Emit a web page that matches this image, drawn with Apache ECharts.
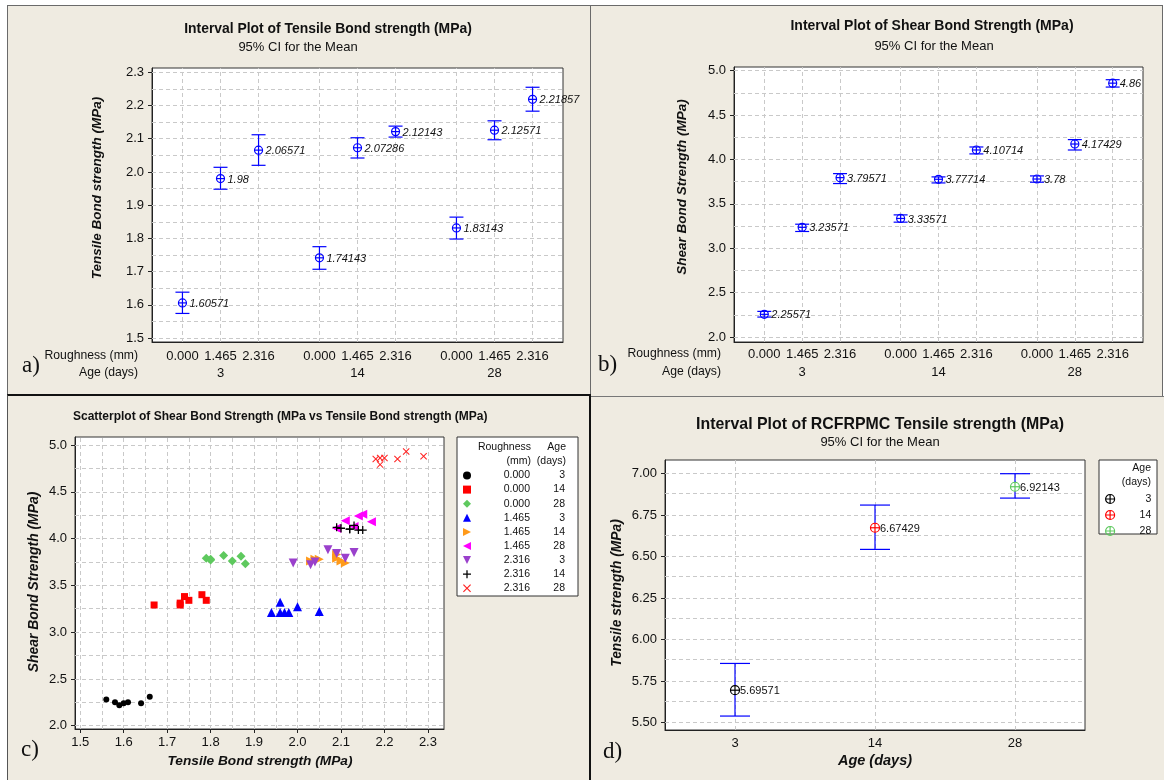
<!DOCTYPE html>
<html><head><meta charset="utf-8">
<script src="https://cdn.jsdelivr.net/npm/echarts@6/dist/echarts.min.js"></script>
<style>
html,body{margin:0;padding:0;background:#fff;}
.p{position:absolute;background:#EFEBE1;box-sizing:border-box;}
#c{position:absolute;left:0;top:0;width:1164px;height:780px;}
</style>
</head><body>
<div class="p" style="left:7px;top:5px;width:584px;height:390px;border:1px solid #6a6a6a;"></div>
<div class="p" style="left:590px;top:5px;width:573px;height:392px;border:1px solid #6a6a6a;"></div>
<div class="p" style="left:7px;top:394px;width:584px;height:386px;border-left:1px solid #555;border-top:2px solid #111;border-right:2px solid #111;"></div>
<div class="p" style="left:591px;top:396px;width:573px;height:384px;border-top:1px solid #777;"></div>
<div id="c"></div>
<script>
// ---------------- DATA ----------------
const roughness = ['0.000', '1.465', '2.316'];
const ages = ['3', '14', '28'];

// a) Tensile bond strength, 95% CI (order: age 3/14/28 x roughness 0.000/1.465/2.316)
const tensileMean = [1.60571, 1.98, 2.06571, 1.74143, 2.07286, 2.12143, 1.83143, 2.12571, 2.21857];
const tensileLow  = [1.574, 1.948, 2.020, 1.707, 2.042, 2.105, 1.798, 2.097, 2.183];
const tensileHigh = [1.638, 2.014, 2.112, 1.775, 2.103, 2.138, 1.864, 2.154, 2.255];

// b) Shear bond strength, 95% CI
const shearMean = [2.25571, 3.23571, 3.79571, 3.33571, 3.77714, 4.10714, 3.78, 4.17429, 4.86];
const shearLow  = [2.225, 3.189, 3.729, 3.294, 3.736, 4.063, 3.744, 4.107, 4.816];
const shearHigh = [2.289, 3.271, 3.841, 3.376, 3.804, 4.141, 3.815, 4.224, 4.899];

// c) Scatter: individual specimens (tensile x, shear y) per roughness/age group
const scatterGroups = ['0.000 3', '0.000 14', '0.000 28', '1.465 3', '1.465 14', '1.465 28', '2.316 3', '2.316 14', '2.316 28'];
const scatterTensile = [
  [1.56, 1.58, 1.59, 1.60, 1.61, 1.64, 1.66],
  [1.67, 1.73, 1.73, 1.74, 1.75, 1.78, 1.79],
  [1.79, 1.80, 1.80, 1.83, 1.85, 1.87, 1.88],
  [1.94, 1.96, 1.96, 1.97, 1.98, 2.00, 2.05],
  [2.03, 2.04, 2.05, 2.09, 2.09, 2.10, 2.11],
  [2.09, 2.09, 2.11, 2.13, 2.14, 2.15, 2.17],
  [1.99, 2.03, 2.04, 2.07, 2.09, 2.11, 2.13],
  [2.09, 2.10, 2.12, 2.12, 2.13, 2.14, 2.15],
  [2.18, 2.19, 2.19, 2.20, 2.23, 2.25, 2.29]
];
const scatterShear = [
  [2.28, 2.25, 2.22, 2.24, 2.25, 2.24, 2.31],
  [3.29, 3.31, 3.29, 3.38, 3.34, 3.40, 3.34],
  [3.79, 3.78, 3.77, 3.82, 3.76, 3.81, 3.73],
  [3.21, 3.32, 3.21, 3.21, 3.21, 3.27, 3.22],
  [3.76, 3.78, 3.78, 3.83, 3.79, 3.76, 3.74],
  [4.11, 4.11, 4.19, 4.13, 4.24, 4.26, 4.18],
  [3.74, 3.72, 3.75, 3.88, 3.84, 3.79, 3.85],
  [4.12, 4.11, 4.10, 4.10, 4.14, 4.09, 4.09],
  [4.85, 4.86, 4.79, 4.86, 4.85, 4.93, 4.88]
];

// d) RCFRPMC tensile strength, 95% CI
const rcfAges = ['3', '14', '28'];
const rcfMean = [5.69571, 6.67429, 6.92143];
const rcfLow  = [5.540, 6.544, 6.853];
const rcfHigh = [5.857, 6.811, 7.000];

// tick labels
const ticksA  = [1.5, 1.6, 1.7, 1.8, 1.9, 2.0, 2.1, 2.2, 2.3];
const ticksB  = [2.0, 2.5, 3.0, 3.5, 4.0, 4.5, 5.0];
const ticksCx = [1.5, 1.6, 1.7, 1.8, 1.9, 2.0, 2.1, 2.2, 2.3];
const ticksCy = [2.0, 2.5, 3.0, 3.5, 4.0, 4.5, 5.0];
const ticksD  = [5.50, 5.75, 6.00, 6.25, 6.50, 6.75, 7.00];

// ---------------- STYLE / LAYOUT ----------------
const FONT = '"Liberation Sans", Arial, sans-serif';
const SERIF = '"Liberation Serif", "DejaVu Serif", serif';
const BLUE = '#0000ff';
const GRIDC = '#c9c9c9';
const groupGap = 3.6;
const posAB = tensileMean.map((_, k) => Math.floor(k / 3) * groupGap + (k % 3));
const scatterColors = ['#000000', '#ff0000', '#5ec95e', '#0000ff', '#ff9a1a', '#ff00ff', '#9a40cc', '#000000', '#ff2020'];
const PLUS = 'path://M4.2,0H5.8V4.2H10V5.8H5.8V10H4.2V5.8H0V4.2H4.2Z';
const XMARK = 'path://M1,0L5,4L9,0L10,1L6,5L10,9L9,10L5,6L1,10L0,9L4,5L0,1Z';
const TRI_R = 'path://M0,0L10,5L0,10Z';
const TRI_L = 'path://M10,0L0,5L10,10Z';
const TRI_D = 'path://M0,0L10,0L5,10Z';
const scatterSymbols = [
  {symbol: 'circle', size: 6},
  {symbol: 'rect', size: 7},
  {symbol: 'diamond', size: 9},
  {symbol: 'triangle', size: 9},
  {symbol: TRI_R, size: 9},
  {symbol: TRI_L, size: 9},
  {symbol: TRI_D, size: 9},
  {symbol: PLUS, size: 8},
  {symbol: XMARK, size: 7}
];
const rcfColors = ['#000000', '#ff0000', '#5ec95e'];

function range(a, b, s) { const r = []; for (let v = a; v <= b + 1e-9; v += s) r.push(+v.toFixed(4)); return r; }

function gridSeries(gi, xs, ys) {
  const data = [];
  xs.forEach(v => data.push({xAxis: v}));
  ys.forEach(v => data.push({yAxis: v}));
  return {
    type: 'line', xAxisIndex: gi, yAxisIndex: gi, data: [], z: 1, silent: true,
    markLine: {silent: true, symbol: ['none', 'none'], label: {show: false}, animation: false,
      lineStyle: {type: [4, 3], color: GRIDC, width: 1}, emphasis: {disabled: true}, data: data}
  };
}

function yAx(gi, min, max, ticks, dec) {
  return {
    gridIndex: gi, type: 'value', min: min, max: max,
    axisLine: {show: true, onZero: false, lineStyle: {color: '#222'}},
    axisTick: {show: true, customValues: ticks, length: 4, lineStyle: {color: '#222'}},
    axisLabel: {customValues: ticks, formatter: v => Number(v).toFixed(dec), margin: 8,
      fontSize: 13, fontFamily: FONT, color: '#111'},
    splitLine: {show: false}
  };
}

function hiddenX(gi, min, max) {
  return {gridIndex: gi, type: 'value', min: min, max: max,
    axisLine: {show: true, onZero: false, lineStyle: {color: '#222'}}, axisTick: {show: false},
    axisLabel: {show: false}, splitLine: {show: false}};
}

function intervalSeries(gi, means, lows, highs, yMin, rOff, aOff) {
  return {
    type: 'custom', xAxisIndex: gi, yAxisIndex: gi, z: 5, clip: false, silent: true,
    data: means.map((m, k) => [posAB[k], m, lows[k], highs[k]]),
    renderItem: function (params, api) {
      const k = params.dataIndex;
      const x = api.value(0);
      const pm = api.coord([x, api.value(1)]);
      const pl = api.coord([x, api.value(2)]);
      const ph = api.coord([x, api.value(3)]);
      const bottom = api.coord([x, yMin])[1];
      const cx = pm[0], hw = 7, r = 4;
      const st = {stroke: BLUE, lineWidth: 1.2};
      const ch = [
        {type: 'line', shape: {x1: cx, y1: ph[1], x2: cx, y2: pl[1]}, style: st},
        {type: 'line', shape: {x1: cx - hw, y1: ph[1], x2: cx + hw, y2: ph[1]}, style: st},
        {type: 'line', shape: {x1: cx - hw, y1: pl[1], x2: cx + hw, y2: pl[1]}, style: st},
        {type: 'circle', shape: {cx: cx, cy: pm[1], r: r}, style: {fill: 'none', stroke: BLUE, lineWidth: 1.2}},
        {type: 'line', shape: {x1: cx - r, y1: pm[1], x2: cx + r, y2: pm[1]}, style: st},
        {type: 'text', x: cx + 7, y: pm[1] + 1, style: {text: String(means[k]), font: 'italic 11px ' + FONT, fill: '#111', align: 'left', verticalAlign: 'middle'}},
        {type: 'text', x: cx, y: bottom + rOff, style: {text: roughness[k % 3], font: '13px ' + FONT, fill: '#111', align: 'center', verticalAlign: 'middle'}}
      ];
      if (k % 3 === 1) ch.push({type: 'text', x: cx, y: bottom + aOff, style: {text: ages[Math.floor(k / 3)], font: '13px ' + FONT, fill: '#111', align: 'center', verticalAlign: 'middle'}});
      return {type: 'group', children: ch};
    }
  };
}

function rcfSeries(i) {
  return {
    type: 'custom', name: rcfAges[i], xAxisIndex: 3, yAxisIndex: 3, z: 5, clip: false, silent: true,
    itemStyle: {color: rcfColors[i], borderColor: rcfColors[i]},
    data: [[i, rcfMean[i], rcfLow[i], rcfHigh[i]]],
    renderItem: function (params, api) {
      const x = api.value(0);
      const pm = api.coord([x, api.value(1)]);
      const pl = api.coord([x, api.value(2)]);
      const ph = api.coord([x, api.value(3)]);
      const cx = pm[0], hw = 15, r = 4.5, col = rcfColors[i];
      const st = {stroke: BLUE, lineWidth: 1.2};
      const cs = {stroke: col, lineWidth: 1.2};
      return {type: 'group', children: [
        {type: 'line', shape: {x1: cx, y1: ph[1], x2: cx, y2: pl[1]}, style: st},
        {type: 'line', shape: {x1: cx - hw, y1: ph[1], x2: cx + hw, y2: ph[1]}, style: st},
        {type: 'line', shape: {x1: cx - hw, y1: pl[1], x2: cx + hw, y2: pl[1]}, style: st},
        {type: 'circle', shape: {cx: cx, cy: pm[1], r: r}, style: {fill: '#fff', stroke: col, lineWidth: 1.2}},
        {type: 'line', shape: {x1: cx - r, y1: pm[1], x2: cx + r, y2: pm[1]}, style: cs},
        {type: 'line', shape: {x1: cx, y1: pm[1] - r, x2: cx, y2: pm[1] + r}, style: cs},
        {type: 'text', x: cx + 5, y: pm[1] + 1, style: {text: String(rcfMean[i]), font: '11px ' + FONT, fill: '#111', align: 'left', verticalAlign: 'middle'}}
      ]};
    }
  };
}

function txt(x, y, text, font, align, rot) {
  const e = {type: 'text', x: x, y: y, silent: true,
    style: {text: text, font: font, fill: '#111', align: align || 'center', verticalAlign: 'middle'}};
  if (rot) e.rotation = rot;
  return e;
}

// ---------------- OPTION ----------------
const series = [
  gridSeries(0, posAB, range(1.5, 2.3, 0.05)),
  gridSeries(1, posAB, range(2.0, 5.0, 0.25)),
  gridSeries(2, range(1.5, 2.3, 0.05), range(2.0, 5.0, 0.25)),
  gridSeries(3, rcfAges, range(5.5, 7.0, 0.125)),
  intervalSeries(0, tensileMean, tensileLow, tensileHigh, 1.488, 14, 31),
  intervalSeries(1, shearMean, shearLow, shearHigh, 1.944, 12, 30)
];
scatterGroups.forEach((name, g) => {
  series.push({
    type: 'scatter', name: name, xAxisIndex: 2, yAxisIndex: 2, z: 5,
    symbol: scatterSymbols[g].symbol, symbolSize: scatterSymbols[g].size,
    itemStyle: {color: scatterColors[g], opacity: 1},
    data: scatterTensile[g].map((t, j) => [t, scatterShear[g][j]])
  });
});
rcfAges.forEach((_, i) => series.push(rcfSeries(i)));

const gridStyle = {show: true, backgroundColor: '#fff', borderColor: '#333', borderWidth: 1};
const option = {
  animation: false,
  backgroundColor: 'transparent',
  grid: [
    Object.assign({left: 152, top: 68, width: 411, height: 274}, gridStyle),
    Object.assign({left: 734, top: 67, width: 409, height: 275}, gridStyle),
    Object.assign({left: 75, top: 437, width: 369, height: 292}, gridStyle),
    Object.assign({left: 665, top: 460, width: 420, height: 270}, gridStyle)
  ],
  xAxis: [
    hiddenX(0, -0.8, 10),
    hiddenX(1, -0.8, 10),
    {gridIndex: 2, type: 'value', min: 1.488, max: 2.337,
      axisLine: {show: true, onZero: false, lineStyle: {color: '#222'}},
      axisTick: {show: true, customValues: ticksCx, length: 4, lineStyle: {color: '#222'}},
      axisLabel: {customValues: ticksCx, formatter: v => Number(v).toFixed(1), margin: 7, fontSize: 13, fontFamily: FONT, color: '#111'},
      splitLine: {show: false}},
    {gridIndex: 3, type: 'category', data: rcfAges, boundaryGap: true,
      axisLine: {show: true, onZero: false, lineStyle: {color: '#222'}}, axisTick: {show: false},
      axisLabel: {margin: 7, fontSize: 13, fontFamily: FONT, color: '#111'}, splitLine: {show: false}}
  ],
  yAxis: [
    yAx(0, 1.488, 2.313, ticksA, 1),
    yAx(1, 1.944, 5.042, ticksB, 1),
    yAx(2, 1.965, 5.085, ticksCy, 1),
    yAx(3, 5.456, 7.0825, ticksD, 2)
  ],
  legend: [
    {orient: 'vertical', left: 463, top: 470, itemWidth: 8, itemHeight: 8, itemGap: 3.1,
      data: scatterGroups, selectedMode: false, z: 10, padding: 0,
      formatter: name => { const p = name.split(' '); return '{r|' + p[0] + '}{a|' + p[1] + '}'; },
      textStyle: {fontFamily: FONT, fontSize: 10.5, color: '#111',
        rich: {r: {width: 54, align: 'right', fontSize: 10.5, fontFamily: FONT, lineHeight: 11, color: '#111'},
               a: {width: 35, align: 'right', fontSize: 10.5, fontFamily: FONT, lineHeight: 11, color: '#111'}}}},
    {orient: 'vertical', left: 1105, top: 493.5, itemWidth: 9, itemHeight: 9, itemGap: 5,
      data: rcfAges, selectedMode: false, z: 10, padding: 0,
      icon: 'path://M5,0A5,5,0,1,1,5,10A5,5,0,1,1,5,0ZM5,0L5,10M0,5L10,5',
      itemStyle: {color: 'transparent', borderWidth: 1.2},
      formatter: name => '{a|' + name + '}',
      textStyle: {fontFamily: FONT, fontSize: 10.5, color: '#111',
        rich: {a: {width: 31.7, align: 'right', fontSize: 10.5, fontFamily: FONT, lineHeight: 10, color: '#111'}}}}
  ],
  graphic: [
    // panel a
    txt(328, 29, 'Interval Plot of Tensile Bond strength (MPa)', 'bold 13.9px ' + FONT),
    txt(298, 47, '95% CI for the Mean', '13px ' + FONT),
    txt(97, 188, 'Tensile Bond strength (MPa)', 'italic bold 13.5px ' + FONT, 'center', Math.PI / 2),
    txt(138, 356, 'Roughness (mm)', '12.2px ' + FONT, 'right'),
    txt(138, 373, 'Age (days)', '12.2px ' + FONT, 'right'),
    txt(22, 366, 'a)', '23px ' + SERIF, 'left'),
    // panel b
    txt(932, 26, 'Interval Plot of Shear Bond Strength (MPa)', 'bold 14px ' + FONT),
    txt(934, 46, '95% CI for the Mean', '13px ' + FONT),
    txt(682, 187, 'Shear Bond Strength (MPa)', 'italic bold 13.5px ' + FONT, 'center', Math.PI / 2),
    txt(721, 354, 'Roughness (mm)', '12.2px ' + FONT, 'right'),
    txt(721, 372, 'Age (days)', '12.2px ' + FONT, 'right'),
    txt(598, 365, 'b)', '23px ' + SERIF, 'left'),
    // panel c
    txt(73, 417, 'Scatterplot of Shear Bond Strength (MPa vs Tensile Bond strength (MPa)', 'bold 12px ' + FONT, 'left'),
    txt(260, 761, 'Tensile Bond strength (MPa)', 'italic bold 13.7px ' + FONT),
    txt(34, 582, 'Shear Bond Strength (MPa)', 'italic bold 13.9px ' + FONT, 'center', Math.PI / 2),
    txt(21, 750, 'c)', '23px ' + SERIF, 'left'),
    {type: 'rect', shape: {x: 457, y: 437, width: 121, height: 159}, style: {fill: '#fff', stroke: '#333', lineWidth: 1}, silent: true},
    txt(531, 447, 'Roughness', '10.5px ' + FONT, 'right'),
    txt(531, 461, '(mm)', '10.5px ' + FONT, 'right'),
    txt(566, 447, 'Age', '10.5px ' + FONT, 'right'),
    txt(566, 461, '(days)', '10.5px ' + FONT, 'right'),
    // panel d
    txt(880, 425, 'Interval Plot of RCFRPMC Tensile strength (MPa)', 'bold 15.9px ' + FONT),
    txt(880, 442, '95% CI for the Mean', '13px ' + FONT),
    txt(617, 593, 'Tensile strength (MPa)', 'italic bold 13.8px ' + FONT, 'center', Math.PI / 2),
    txt(875, 761, 'Age (days)', 'italic bold 14.5px ' + FONT),
    txt(603, 752, 'd)', '23px ' + SERIF, 'left'),
    {type: 'rect', shape: {x: 1099, y: 460, width: 58, height: 74}, style: {fill: '#fff', stroke: '#333', lineWidth: 1}, silent: true},
    txt(1151, 468, 'Age', '10.5px ' + FONT, 'right'),
    txt(1151, 482, '(days)', '10.5px ' + FONT, 'right')
  ],
  series: series
};

const chart = echarts.init(document.getElementById('c'), null, {renderer: 'canvas', width: 1164, height: 780});
chart.setOption(option);
</script>
</body></html>
